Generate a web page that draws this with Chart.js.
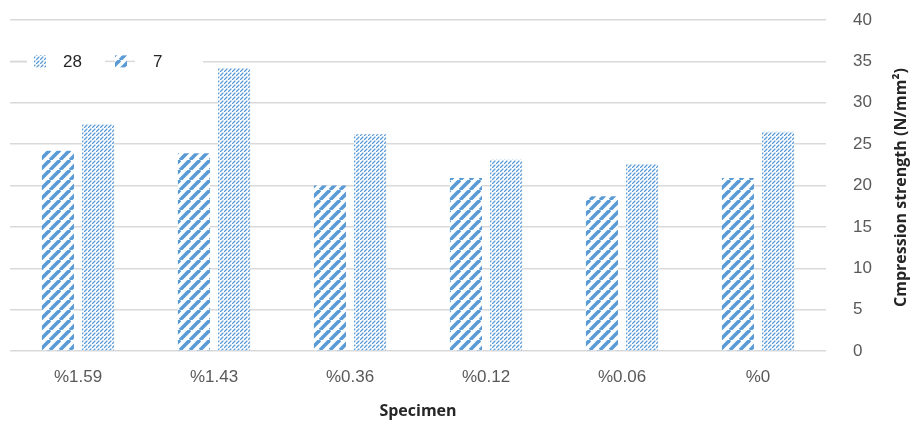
<!DOCTYPE html>
<html>
<head>
<meta charset="utf-8">
<script src="https://cdn.jsdelivr.net/npm/chart.js@4"></script>
<style>
  html, body { margin: 0; padding: 0; background: #ffffff; }
  #wrap { width: 913px; height: 423px; position: relative; }
</style>
</head>
<body>
<div id="wrap"><canvas id="c"></canvas></div>
<script>
// Compression strength of each specimen after 7 and 28 days of curing
const specimens = ['%1.59', '%1.43', '%0.36', '%0.12', '%0.06', '%0'];
const strength7 = [24.2, 23.9, 20.0, 20.9, 18.7, 20.9];
const strength28 = [27.4, 34.2, 26.2, 23.1, 22.6, 26.5];
const seriesNames = ['7', '28'];
const yMin = 0, yMax = 40, yStep = 5;

const BLUE = '#5b9bd5';
const TEXT = '#595959';
const GRID = '#d9d9d9';
const FONT = '"Liberation Sans Narrow", "Liberation Sans", Arial, sans-serif';
const BOLD = '"Open Sans", "DejaVu Sans", sans-serif';

const canvas = document.getElementById('c');
const ctx = canvas.getContext('2d');

function tile(size) {
  const t = document.createElement('canvas');
  t.width = t.height = size;
  const g = t.getContext('2d');
  g.fillStyle = '#ffffff';
  g.fillRect(0, 0, size, size);
  g.strokeStyle = BLUE;
  return { t, g };
}

// Wide upward diagonal stripes
function wideDiagonal() {
  const s = 10;
  const { t, g } = tile(s);
  g.lineWidth = 3.6;
  for (const o of [-s, 0, s]) {
    g.beginPath();
    g.moveTo(o, s);
    g.lineTo(o + s, 0);
    g.stroke();
  }
  return ctx.createPattern(t, 'repeat');
}

// Dashed upward diagonal texture
function dashedDiagonal() {
  const s = 8;
  const { t, g } = tile(s);
  g.lineWidth = 1.2;
  g.lineCap = 'round';
  const segs = [[0.5, 7.5, 3, 5], [4.5, 3.5, 7, 1], [4.5, 7.5, 7, 5], [0.5, 3.5, 3, 1]];
  for (const [x1, y1, x2, y2] of segs) {
    g.beginPath();
    g.moveTo(x1, y1);
    g.lineTo(x2, y2);
    g.stroke();
  }
  return ctx.createPattern(t, 'repeat');
}

const fill7 = wideDiagonal();
const fill28 = dashedDiagonal();

// Legend drawn inside the plot, 28 first then 7
const legendKey = {
  id: 'legendKey',
  afterDraw(chart) {
    const c = chart.ctx;
    const a = chart.chartArea;
    const y = chart.scales.y.getPixelForValue(35);
    c.save();
    c.fillStyle = '#ffffff';
    c.fillRect(a.left + 17, y - 10, 176, 20);
    const items = [
      { ds: chart.data.datasets[1], lineFrom: 0, lineTo: 17, box: 24, text: 53 },
      { ds: chart.data.datasets[0], lineFrom: 95, lineTo: 125, box: 105, text: 143 }
    ];
    for (const it of items) {
      c.strokeStyle = GRID;
      c.lineWidth = 1.5;
      c.beginPath();
      c.moveTo(a.left + it.lineFrom, y);
      c.lineTo(a.left + it.lineTo, y);
      c.stroke();
      c.fillStyle = it.ds.backgroundColor;
      c.fillRect(a.left + it.box, y - 6, 12, 12);
      c.fillStyle = '#262626';
      c.font = '17px ' + FONT;
      c.textAlign = 'left';
      c.textBaseline = 'middle';
      c.fillText(it.ds.label, a.left + it.text, y + 1);
    }
    c.restore();
  }
};

// Value-axis title on the right, reading bottom to top
const rightTitle = {
  id: 'rightTitle',
  afterDraw(chart) {
    const s = chart.scales.y;
    const a = chart.chartArea;
    const c = chart.ctx;
    c.save();
    c.translate(s.left + 75, (a.top + a.bottom) / 2 + 2);
    c.rotate(-Math.PI / 2);
    c.fillStyle = '#262626';
    c.font = 'bold 16px ' + BOLD;
    c.textAlign = 'center';
    c.textBaseline = 'middle';
    c.fillText('Cmpression strength (N/mm²)', 0, 0);
    c.restore();
  }
};

new Chart(ctx, {
  type: 'bar',
  data: {
    labels: specimens,
    datasets: [
      { label: seriesNames[0], data: strength7, backgroundColor: fill7, borderWidth: 0 },
      { label: seriesNames[1], data: strength28, backgroundColor: fill28, borderWidth: 0 }
    ]
  },
  options: {
    responsive: true,
    maintainAspectRatio: false,
    animation: false,
    datasets: { bar: { categoryPercentage: 0.59, barPercentage: 0.8 } },
    layout: { padding: { left: 10, top: 20, right: 0, bottom: 0 } },
    plugins: {
      legend: { display: false },
      tooltip: { enabled: false }
    },
    scales: {
      x: {
        grid: { display: false },
        border: { display: false },
        ticks: { color: TEXT, font: { family: FONT, size: 17 }, padding: 8 },
        title: {
          display: true,
          text: 'Specimen',
          color: '#262626',
          font: { family: BOLD, size: 16, weight: 'bold' },
          padding: { top: 0, bottom: 2 }
        },
        afterFit(scale) { scale.height = 72; }
      },
      y: {
        position: 'right',
        min: yMin,
        max: yMax,
        grid: { color: GRID, lineWidth: 1.5, drawTicks: false },
        border: { display: false },
        ticks: { stepSize: yStep, color: TEXT, font: { family: FONT, size: 17 }, padding: 27 },
        afterFit(scale) {
          scale.width = 87;
          scale.paddingTop = 10;
          scale.paddingBottom = 10;
        }
      }
    }
  },
  plugins: [legendKey, rightTitle]
});
</script>
</body>
</html>
